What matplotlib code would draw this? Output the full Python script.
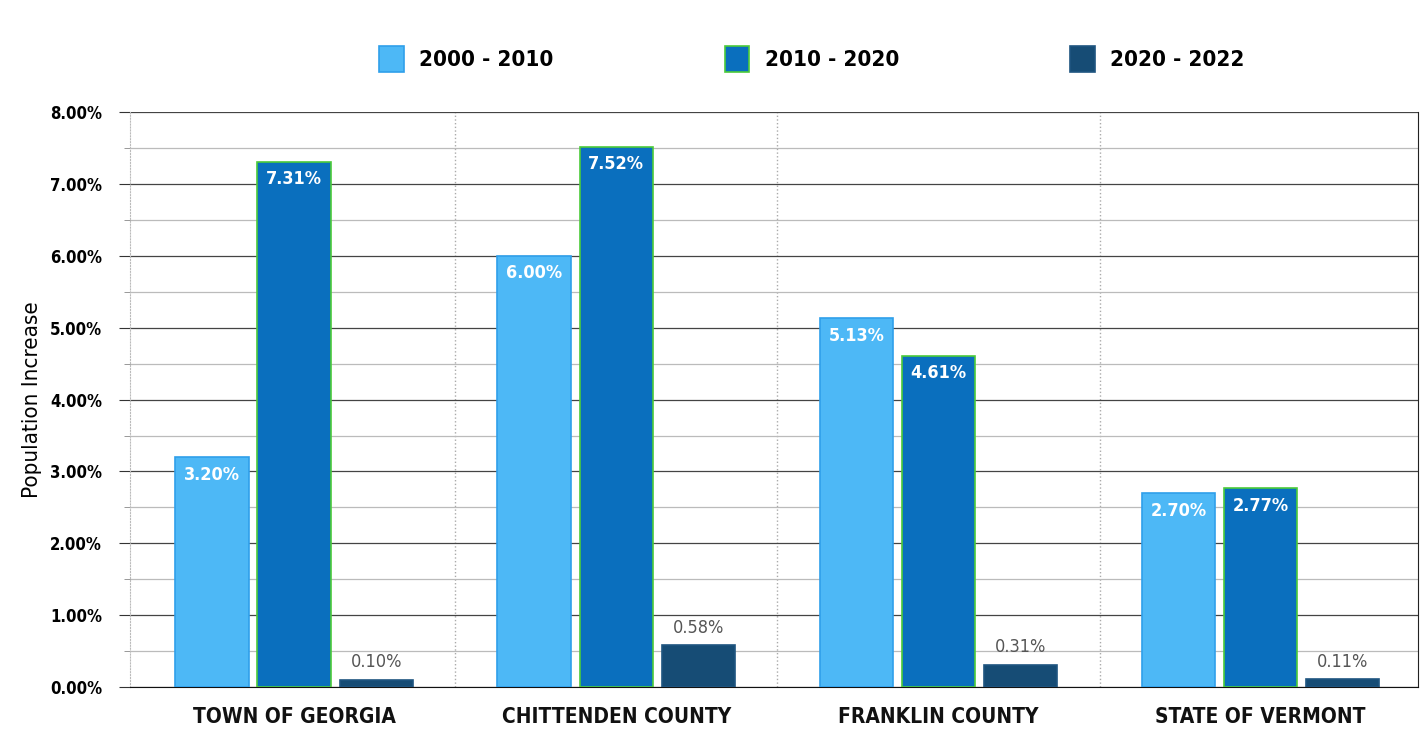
import matplotlib
matplotlib.use("Agg")
import matplotlib.pyplot as plt
import numpy as np
from matplotlib.ticker import MultipleLocator, FuncFormatter

plt.rcParams['font.family'] = ['DejaVu Sans']
plt.rcParams['font.stretch'] = 'condensed'

# data
places = ["TOWN OF GEORGIA", "CHITTENDEN COUNTY", "FRANKLIN COUNTY", "STATE OF VERMONT"]
periods = ["2000 - 2010", "2010 - 2020", "2020 - 2022"]
s2000 = [3.20, 6.00, 5.13, 2.70]
s2010 = [7.31, 7.52, 4.61, 2.77]
s2020 = [0.10, 0.58, 0.31, 0.11]

fills = ["#4db8f6", "#0a6fbe", "#164c75"]
edges = ["#2f9fea", "#4ccb3a", "#1f5580"]

fig = plt.figure(figsize=(14.27, 7.42), dpi=100)
ax = fig.add_axes([0.091, 0.074, 0.903, 0.775])

x = np.arange(len(places))
w = 0.228
step = 0.255
series = [s2000, s2010, s2020]

for i, vals in enumerate(series):
    pos = x + (i - 1) * step
    bars = ax.bar(pos, vals, w, color=fills[i], edgecolor=edges[i], linewidth=1.2,
                  label=periods[i], zorder=3)
    for b, v in zip(bars, vals):
        cx = b.get_x() + b.get_width() / 2
        if i < 2:
            ax.text(cx, v - 0.12, "%.2f%%" % v, ha='center', va='top', color='white',
                    fontsize=13, fontweight='bold', zorder=4)
        else:
            ax.text(cx, v + 0.12, "%.2f%%" % v, ha='center', va='bottom', color='#555555',
                    fontsize=13, zorder=4)

ax.set_xlim(-0.51, 3.49)
ax.set_ylim(0, 8)
ax.yaxis.set_major_locator(MultipleLocator(1))
ax.yaxis.set_minor_locator(MultipleLocator(0.5))
ax.yaxis.set_major_formatter(FuncFormatter(lambda v, p: "%.2f%%" % v))
ax.grid(axis='y', which='major', color='#444444', linewidth=0.9, zorder=0)
ax.grid(axis='y', which='minor', color='#bbbbbb', linewidth=0.9, zorder=0)
for sx in [0.5, 1.5, 2.5]:
    ax.axvline(sx, color='#aaaaaa', linestyle=':', linewidth=1, zorder=1)

ax.set_xticks(x)
ax.set_xticklabels(places, fontsize=15, fontweight='bold', color='#111111')
ax.tick_params(axis='x', length=0, pad=14)
ax.tick_params(axis='y', which='major', length=8, color='#333333', labelsize=12, pad=12)
ax.tick_params(axis='y', which='minor', length=4, color='#888888')
for lab in ax.get_yticklabels():
    lab.set_fontweight('bold')
ax.set_ylabel("Population Increase", fontsize=16, labelpad=6)

ax.spines['top'].set_visible(False)
ax.spines['left'].set_color('#bbbbbb')
ax.spines['left'].set_linestyle(':')
ax.spines['bottom'].set_color('#111111')
ax.spines['right'].set_color('#222222')

fig.legend(loc='upper center', bbox_to_anchor=(0.569, 0.965), ncol=3, frameon=False,
           columnspacing=7.7, handlelength=1.1, handleheight=1.4, handletextpad=0.7,
           prop={'size': 16, 'weight': 'bold', 'stretch': 'condensed'})

fig.savefig("out.png", dpi=100, facecolor='white')
